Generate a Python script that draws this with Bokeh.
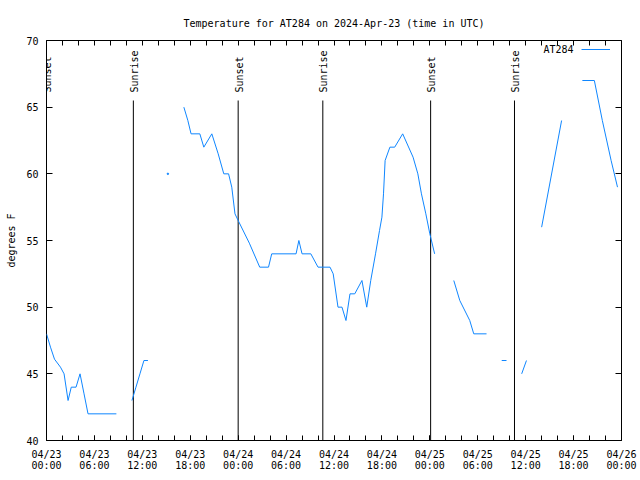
import math
from bokeh.plotting import figure
from bokeh.models import (FixedTicker, LinearAxis, Range1d, Label, Legend, LegendItem,
                          ColumnDataSource)
from bokeh.embed import file_html
from bokeh.resources import INLINE

NaN = float("nan")

# hours since 2024-04-23 00:00 UTC, temperature in degrees F (NaN = gap)
hours = [0.0, 0.5, 1.0, 1.75, 2.2, 2.7, 3.1, 3.7, 4.2, 4.7, 5.2, 8.75, NaN,
         10.7, 11.2, 11.7, 12.2, 12.7, NaN,
         15.2, NaN,
         17.2, 17.7, 18.1, 19.2, 19.7, 20.7, 21.5, 22.2, 22.8, 23.2, 23.6, 24.0,
         25.4, 26.7, 27.8, 28.2, 31.25, 31.6, 32.0, 33.1, 34.0, 35.5, 35.9,
         36.5, 37.0, 37.5, 38.0, 38.6, 39.5, 40.1, 40.6, 41.2, 41.7, 42.0, 42.2,
         42.4, 43.0, 43.6, 44.6, 45.9, 46.5, 46.95, 47.5, 48.0, 48.6, NaN,
         51.0, 51.75, 53.0, 53.5, 55.1, NaN,
         57.0, 57.6, NaN,
         59.5, 60.1, NaN,
         62.0, 64.5, NaN,
         67.1, 68.6, 69.6, 70.7, 71.5]
temps = [48.0, 47.0, 46.1, 45.5, 45.0, 43.0, 44.0, 44.0, 45.0, 43.5, 42.0, 42.0, NaN,
         43.0, 44.0, 45.0, 46.0, 46.0, NaN,
         60.0, NaN,
         65.0, 64.0, 63.0, 63.0, 62.0, 63.0, 61.5, 60.0, 60.0, 59.0, 57.0, 56.5,
         54.8, 53.0, 53.0, 54.0, 54.0, 55.0, 54.0, 54.0, 53.0, 53.0, 52.5,
         50.0, 50.0, 49.0, 51.0, 51.0, 52.0, 50.0, 52.0, 54.0, 55.75, 56.75, 58.5,
         61.0, 62.0, 62.0, 63.0, 61.25, 60.0, 58.5, 57.0, 55.5, 54.0, NaN,
         52.0, 50.5, 49.0, 48.0, 48.0, NaN,
         46.0, 46.0, NaN,
         45.0, 46.0, NaN,
         56.0, 64.0, NaN,
         67.0, 67.0, 64.0, 61.0, 59.0]

sun_hours = [0.0, 10.875, 24.0, 34.6, 48.1, 58.6]
sun_labels = ["Sunset", "Sunrise", "Sunset", "Sunrise", "Sunset", "Sunrise"]

x_ticks = [0, 6, 12, 18, 24, 30, 36, 42, 48, 54, 60, 66, 72]
x_dates = ["04/23", "04/23", "04/23", "04/23", "04/24", "04/24", "04/24",
           "04/24", "04/25", "04/25", "04/25", "04/25", "04/26"]
x_times = ["00:00", "06:00", "12:00", "18:00", "00:00", "06:00", "12:00",
           "18:00", "00:00", "06:00", "12:00", "18:00", "00:00"]
y_ticks = [40, 45, 50, 55, 60, 65, 70]

FONT = "DejaVu Sans Mono"
FS = "10px"
COLOR = "#0f86ff"

p = figure(width=640, height=480, output_backend="svg", toolbar_location=None,
           x_range=Range1d(0, 72), y_range=Range1d(40, 70),
           min_border_left=46, min_border_right=19, min_border_top=40,
           min_border_bottom=40, background_fill_color="white",
           border_fill_color="white")
p.grid.visible = False
p.outline_line_color = "black"
p.outline_line_width = 1

p.title.text = "Temperature for AT284 on 2024-Apr-23 (time in UTC)"
p.title.align = "center"
p.title.text_font = FONT
p.title.text_font_size = FS
p.title.text_font_style = "normal"
p.title.text_color = "black"
p.title.standoff = 24

minor_x = [h for h in range(0, 73, 2)]


def style_x(ax, labels, show_ticks=True):
    ax.ticker = FixedTicker(ticks=x_ticks, minor_ticks=minor_x)
    ax.major_label_overrides = {t: l for t, l in zip(x_ticks, labels)}
    ax.major_label_text_font = FONT
    ax.major_label_text_font_size = FS
    ax.major_label_text_color = "black"
    ax.major_tick_out = 0
    ax.minor_tick_out = 0
    ax.major_tick_in = 5 if show_ticks else 0
    ax.minor_tick_in = 5 if show_ticks else 0
    ax.major_tick_line_color = "black" if show_ticks else None
    ax.minor_tick_line_color = "black" if show_ticks else None
    ax.axis_line_color = None


# bottom: dates
xa = p.xaxis[0]
style_x(xa, x_dates)
xa.major_label_standoff = 8
# bottom second row: times
xb = LinearAxis()
style_x(xb, x_times, show_ticks=False)
xb.major_label_standoff = -3
p.add_layout(xb, "below")

# top: ticks only (all as minor ticks, so no labels are made)
xt = LinearAxis(ticker=FixedTicker(ticks=[], minor_ticks=minor_x))
xt.major_tick_out = 0
xt.minor_tick_out = 0
xt.minor_tick_in = 5
xt.minor_tick_line_color = "black"
xt.axis_line_color = None
xt.major_label_standoff = 0
p.add_layout(xt, "above")

ya = p.yaxis[0]
ya.ticker = FixedTicker(ticks=y_ticks, minor_ticks=[])
ya.major_label_text_font = FONT
ya.major_label_text_font_size = FS
ya.major_label_text_color = "black"
ya.major_tick_out = 0
ya.major_tick_in = 6
ya.minor_tick_in = 0
ya.minor_tick_out = 0
ya.major_tick_line_color = "black"
ya.axis_line_color = None
ya.major_label_standoff = 8
ya.axis_label = "degrees F"
ya.axis_label_text_font = FONT
ya.axis_label_text_font_size = FS
ya.axis_label_text_font_style = "normal"
ya.axis_label_text_color = "black"
ya.axis_label_standoff = 6

# right: ticks only
yr = LinearAxis(ticker=FixedTicker(ticks=[], minor_ticks=y_ticks))
yr.major_tick_out = 0
yr.minor_tick_out = 0
yr.minor_tick_in = 6
yr.minor_tick_line_color = "black"
yr.axis_line_color = None
yr.major_label_standoff = 0
p.add_layout(yr, "right")

# sunrise / sunset markers
LINE_TOP = 65.5
p.segment(x0=sun_hours, x1=sun_hours, y0=[40] * len(sun_hours),
          y1=[LINE_TOP] * len(sun_hours), line_color="black", line_width=1)
for h, lab in zip(sun_hours, sun_labels):
    p.add_layout(Label(x=h, y=66.1, text=lab, angle=math.pi / 2, x_offset=1,
                       text_align="left", text_baseline="middle", text_font=FONT,
                       text_font_size=FS, text_color="black"))

src = ColumnDataSource(dict(x=hours, y=temps))
r = p.line("x", "y", source=src, line_color=COLOR, line_width=1)

# isolated single readings drawn as dots
iso_x, iso_y = [], []
for i, (h, t) in enumerate(zip(hours, temps)):
    if math.isnan(h):
        continue
    prev_nan = i == 0 or math.isnan(hours[i - 1])
    next_nan = i == len(hours) - 1 or math.isnan(hours[i + 1])
    if prev_nan and next_nan:
        iso_x.append(h)
        iso_y.append(t)
p.scatter(iso_x, iso_y, size=1.5, color=COLOR)

# legend: label text left of line sample
legend = Legend(items=[LegendItem(label=" ", renderers=[r])], location=(535, 386),
                label_width=0, label_standoff=0, label_height=10, padding=0,
                margin=0, glyph_width=29, glyph_height=10, spacing=0,
                border_line_alpha=0, background_fill_alpha=0,
                label_text_font_size="6px")
p.add_layout(legend)
p.add_layout(Label(x=66.0, y=69.3, text="AT284", text_align="right",
                   text_baseline="middle", text_font=FONT, text_font_size=FS,
                   text_color="black"))

open("out.html", "w").write(file_html(p, INLINE))
